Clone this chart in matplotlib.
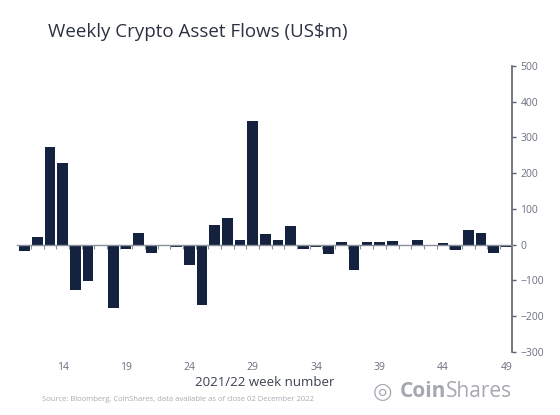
import numpy as np
import matplotlib.pyplot as plt

weeks = list(range(11, 50))
flows = [-18, 21, 274, 228, -126, -102, -1, -178, -13, 34,
         -24, -2, -7, -58, -168, 55, 74, 12, 347, 30,
         14, 53, -11, -5, -25, 9, -71, 9, 7, 10,
         -4, 13, -3, 5, -14, 42, 33, -22, -6]
week_labels = [14, 19, 24, 29, 34, 39, 44, 49]
y_ticks = [-300, -200, -100, 0, 100, 200, 300, 400, 500]

plt.rcParams['font.family'] = ['Open Sans', 'DejaVu Sans']

bar_color = '#15223f'
axis_color = '#5a6070'
text_color = '#6b7080'
logo_color = '#a5a8b0'

fig = plt.figure(figsize=(5.6, 4.15), dpi=100)
ax = fig.add_axes([0.0304, 0.1518, 0.8839, 0.6892])

ax.bar(weeks, flows, width=0.84, color=bar_color, zorder=2)

ax.set_xlim(10.41, 49.45)
ax.set_ylim(-300, 500)

# y axis on the right
ax.yaxis.tick_right()
ax.set_yticks(y_ticks)
ax.tick_params(axis='y', colors=axis_color, labelsize=7.5, length=3, width=1, pad=3)
for lab in ax.get_yticklabels():
    lab.set_color(text_color)
ax.spines['right'].set_color(axis_color)
ax.spines['right'].set_linewidth(1.2)
ax.spines['left'].set_visible(False)
ax.spines['top'].set_visible(False)

# zero line with ticks between weeks
ax.spines['bottom'].set_position(('data', 0))
ax.spines['bottom'].set_color('#8a8f9c')
ax.spines['bottom'].set_linewidth(1.0)
ax.set_xticks([w + 0.5 for w in weeks[:-1]], minor=True)
ax.set_xticks([])
ax.tick_params(axis='x', which='minor', length=3, width=0.8, colors='#8a8f9c')

sec = ax.secondary_xaxis(location=0)
sec.set_xticks(week_labels)
sec.spines['bottom'].set_visible(False)
sec.tick_params(length=0, labelsize=7.5, labelcolor=text_color, pad=7)
sec.set_xlabel('2021/22 week number', fontsize=9.5, color='#3c4150', labelpad=2)

fig.text(0.085, 0.922, 'Weekly Crypto Asset Flows (US$m)', fontsize=13.5,
         color='#2b3142', va='center', ha='left')

fig.text(0.075, 0.038, 'Source: Bloomberg, CoinShares, data available as of close 02 December 2022',
         fontsize=5.5, color='#a8abb5', va='center', ha='left')

# logo
fig.text(0.666, 0.056, '\u25ce', fontsize=16, color=logo_color, va='center', ha='left',
         family='DejaVu Sans')
coin = fig.text(0.714, 0.056, 'Coin', fontsize=15, fontweight='bold', color=logo_color,
                va='center', ha='left')
fig.canvas.draw()
bb = coin.get_window_extent().transformed(fig.transFigure.inverted())
fig.text(bb.x1, 0.056, 'Shares', fontsize=15, color=logo_color, va='center', ha='left')

fig.savefig('out.png', dpi=100, facecolor='white')
